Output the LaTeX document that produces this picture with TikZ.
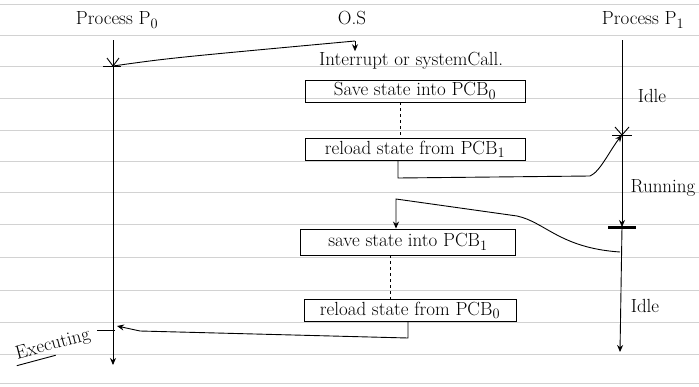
\documentclass[tikz,border=0pt]{standalone}
\usepackage{fontspec}
\setmainfont{Latin Modern Roman}
\usetikzlibrary{arrows.meta}
\begin{document}
\begin{tikzpicture}[x=1pt,y=-1pt,
  lbl/.style={font=\fontsize{19}{21}\selectfont, inner sep=1pt},
  stbox/.style={draw, line width=0.9pt, minimum height=22pt, font=\fontsize{19}{21}\selectfont, inner sep=2pt},
  ln/.style={line width=0.9pt},
  arr/.style={line width=0.9pt,-{Stealth[length=7pt,width=6pt]}},
  rule/.style={gray!35, line width=0.5pt}]
\useasboundingbox (0,0) rectangle (699,386);
% ruled paper
\foreach \yy in {4,35,66,98,130,161,192,224,257,290,322,354,383}
  \draw[rule] (0,\yy) -- (699,\yy);

% titles
\node[lbl] (tp0) at (117,20) {Process P$_0$};
\node[lbl] (tos) at (352,18) {O.S};
\node[lbl] (tp1) at (643,20) {Process P$_1$};

% lifelines coordinates
\coordinate (p0top) at (113,40);
\coordinate (p0int) at (113,66);
\coordinate (p0ret) at (117,326);
\coordinate (p0bot) at (113,365);
\coordinate (p1top) at (622,40);
\coordinate (p1a) at (622,135);
\coordinate (p1b) at (622,227);
\coordinate (p1c) at (620,252);
\coordinate (p1bot) at (620,352);

% P0 lifeline
\draw[arr] (p0top) -- (p0bot);
\draw[ln] ([xshift=-10pt]p0int) -- ([xshift=8pt]p0int);
\draw[ln] ([xshift=-6pt,yshift=8pt]p0int) -- (p0int) -- ([xshift=6pt,yshift=8pt]p0int);
\draw[ln] ([xshift=-20pt,yshift=-4pt]p0ret) -- ([xshift=-2pt,yshift=-4pt]p0ret);

% P1 lifeline
\draw[arr] (p1top) -- (p1b);
\draw[arr] (p1b) -- (p1bot);
\draw[ln] ([xshift=-10pt]p1a) -- ([xshift=10pt]p1a);
\draw[ln] ([xshift=-7pt,yshift=8pt]p1a) -- (p1a) -- ([xshift=7pt,yshift=8pt]p1a);
\draw[line width=3pt] ([xshift=-14pt]p1b) -- ([xshift=14pt]p1b);

% interrupt
\coordinate (os1) at (355,41);
\node[lbl, anchor=west] (int) at (318,61) {Interrupt or systemCall.};
\draw[ln] (p0int) .. controls (170,58) .. (os1);
\draw[arr] (os1) -- (int.north -| os1);

% boxes
\node[stbox, minimum width=220pt] (b1) at (415,91) {Save state into PCB$_0$};
\node[stbox, minimum width=220pt] (b2) at (415,149) {reload state from PCB$_1$};
\node[stbox, minimum width=215pt, minimum height=26pt] (b3) at (408,242) {save state into PCB$_1$};
\node[stbox, minimum width=212pt] (b4) at (410,310) {reload state from PCB$_0$};

\draw[ln, dashed] (b1.south -| 400,0) -- (b2.north -| 400,0);
\draw[ln, dashed] (b3.south -| 390,0) -- (b4.north -| 390,0);

% OS -> P1
\coordinate (c1) at (398,178);
\coordinate (c2) at (590,176);
\draw[arr] (b2.south -| 398,0) -- (c1) -- (c2) .. controls (600,172) and (610,150) .. (p1a);

% P1 -> OS
\coordinate (c3) at (517,216);
\coordinate (c4) at (396,199);
\draw[arr] (p1c) .. controls (560,248) and (545,222) .. (c3) -- (c4) -- (b3.north -| 396,0);

% OS -> P0
\coordinate (c5) at (408,338);
\coordinate (c6) at (140,331);
\draw[arr] (b4.south -| 408,0) -- (c5) -- (c6) -- (p0ret);

% state labels
\node[lbl] (idle1) at (652,96) {Idle};
\node[lbl] (run) at (663,188) {Running};
\node[lbl] (idle2) at (645,306) {Idle};
\node[lbl, rotate=15, inner sep=2pt] (exec) at (53,345) {Executing};
\draw[ln] (exec.south west) -- (exec.south);
\end{tikzpicture}
\end{document}
